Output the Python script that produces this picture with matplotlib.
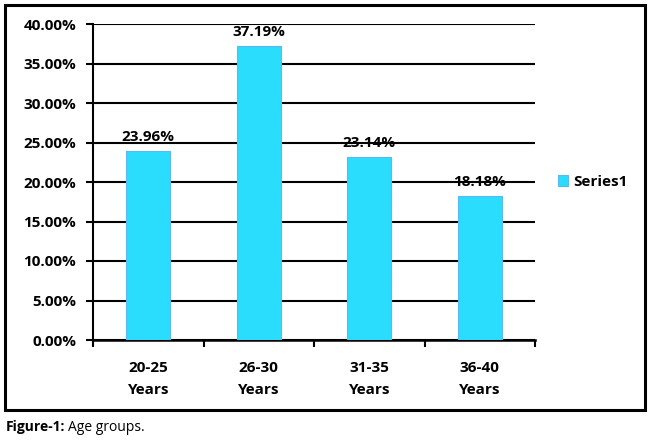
import matplotlib.pyplot as plt
from matplotlib.patches import Rectangle
from matplotlib.ticker import FixedLocator, FuncFormatter

categories = ["20-25\nYears", "26-30\nYears", "31-35\nYears", "36-40\nYears"]
values = [23.96, 37.19, 23.14, 18.18]
series_name = "Series1"

plt.rcParams["font.family"] = ["Open Sans", "DejaVu Sans"]

fig = plt.figure(figsize=(6.5, 4.4), dpi=100)
ax = fig.add_axes([93 / 650, 1 - 340 / 440, 442 / 650, 316 / 440])

x = range(len(values))
bars = ax.bar(x, values, width=0.4, color="#2BDDFC", edgecolor="#5CB8F0",
              linewidth=0.8, label=series_name, zorder=3)

for xi, v in zip(x, values):
    ax.annotate(f"{v:.2f}%", (xi, v), xytext=(0, 5), textcoords="offset points",
                ha="center", va="bottom", fontsize=11, fontweight="bold", zorder=4)

ax.set_xlim(-0.5, len(values) - 0.5)
ax.set_ylim(0, 40)
ax.set_yticks(range(0, 41, 5))
ax.yaxis.set_major_formatter(FuncFormatter(lambda v, p: f"{v:.2f}%"))
ax.grid(axis="y", color="black", linewidth=1.5, zorder=0)
ax.set_axisbelow(True)

ax.set_xticks(list(x))
ax.set_xticklabels(categories, fontsize=11, fontweight="bold", linespacing=1.75)
ax.tick_params(axis="x", length=0, pad=15)
ax.xaxis.set_minor_locator(FixedLocator([i - 0.5 for i in range(len(values) + 1)]))
ax.tick_params(axis="x", which="minor", length=5, width=1.5, direction="out")
ax.tick_params(axis="y", length=5, width=1.5, labelsize=11, pad=7)
for lab in ax.get_yticklabels():
    lab.set_fontweight("bold")

for s in ["top", "right"]:
    ax.spines[s].set_visible(False)
ax.spines["left"].set_linewidth(1.5)
ax.spines["bottom"].set_linewidth(1.8)

leg = ax.legend(loc="center left", bbox_to_anchor=(1.02, 0.5), frameon=False,
                prop={"weight": "bold", "size": 11}, handlelength=0.7,
                handleheight=0.7, handletextpad=0.3)

fig.patches.append(Rectangle((5 / 650, 1 - 410 / 440), 640 / 650, 405 / 440,
                             transform=fig.transFigure, fill=False,
                             edgecolor="black", linewidth=2.2))

fig.text(6 / 650, 1 - 427 / 440, "Figure-1:", fontsize=10, fontweight="bold",
         va="center", ha="left")
fig.text(68 / 650, 1 - 427 / 440, "Age groups.", fontsize=10,
         va="center", ha="left")

fig.savefig("out.png", dpi=100)
